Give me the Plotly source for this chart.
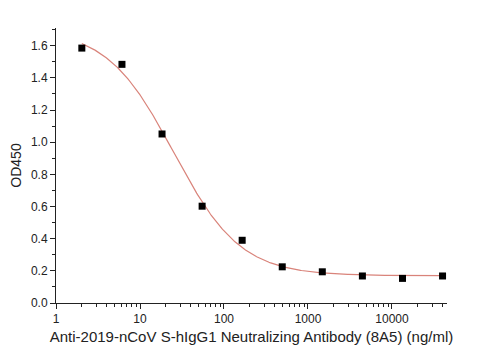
import numpy as np
import plotly.graph_objects as go

# Data (3-fold dilution series)
conc = [2.03, 6.1, 18.3, 54.9, 164.6, 493.8, 1481, 4444, 13333, 40000]
od450 = [1.585, 1.484, 1.051, 0.602, 0.39, 0.225, 0.194, 0.168, 0.153, 0.168]

# 4-parameter logistic least-squares fit (grid over EC50 & Hill slope, linear solve for top/bottom)
lx = np.log10(np.array(conc))
yv = np.array(od450)
best = None
for logc in np.linspace(0.8, 2.2, 281):
    for hill in np.linspace(0.5, 3.0, 251):
        h = 1.0 / (1.0 + 10 ** ((lx - logc) * hill))
        M = np.column_stack([np.ones_like(h), h])
        coef, *_ = np.linalg.lstsq(M, yv, rcond=None)
        sse = np.sum((M @ coef - yv) ** 2)
        if best is None or sse < best[0]:
            best = (sse, logc, hill, coef)
_, logc, hill, (bottom, span) = best

xs_log = np.linspace(lx[0], lx[-1], 400)
ys = bottom + span / (1.0 + 10 ** ((xs_log - logc) * hill))
xs = 10 ** xs_log

fig = go.Figure()
fig.add_trace(go.Scatter(x=xs, y=ys, mode="lines",
                         line=dict(color="#d9837a", width=1.2),
                         hoverinfo="skip", showlegend=False))
fig.add_trace(go.Scatter(x=conc, y=od450, mode="markers",
                         marker=dict(symbol="square", size=7, color="black"),
                         showlegend=False))

font = dict(family="Liberation Sans, Arial, sans-serif", size=12, color="#222")
fig.update_layout(
    width=480, height=360,
    margin=dict(l=48, r=41, t=20, b=65),
    paper_bgcolor="white", plot_bgcolor="white",
    font=font,
    xaxis=dict(type="log", range=[0, 4.655], automargin=False,
               tickvals=[1, 10, 100, 1000, 10000],
               ticktext=["1", "10", "100", "1000", "10000"],
               ticks="outside", ticklen=5, tickcolor="#222",
               showline=True, linecolor="#222", linewidth=1,
               showgrid=False, zeroline=False,
               minor=dict(ticks="outside", ticklen=3, tickcolor="#222",
                          tickvals=[m * 10 ** d for d in range(0, 5) for m in range(2, 10)
                                    if m * 10 ** d < 45000]),
               title=dict(text="Anti-2019-nCoV S-hIgG1 Neutralizing Antibody (8A5) (ng/ml)",
                          standoff=6, font=dict(size=15))),
    yaxis=dict(range=[0, 1.71], automargin=False,
               tickvals=[0, 0.2, 0.4, 0.6, 0.8, 1.0, 1.2, 1.4, 1.6],
               tickformat=".1f",
               ticks="outside", ticklen=5, tickcolor="#222",
               showline=True, linecolor="#222", linewidth=1,
               showgrid=False, zeroline=False,
               minor=dict(ticks="outside", ticklen=3, tickcolor="#222", dtick=0.1),
               title=dict(text="OD450", standoff=6, font=dict(size=14))),
)

fig.write_html("out.html")
